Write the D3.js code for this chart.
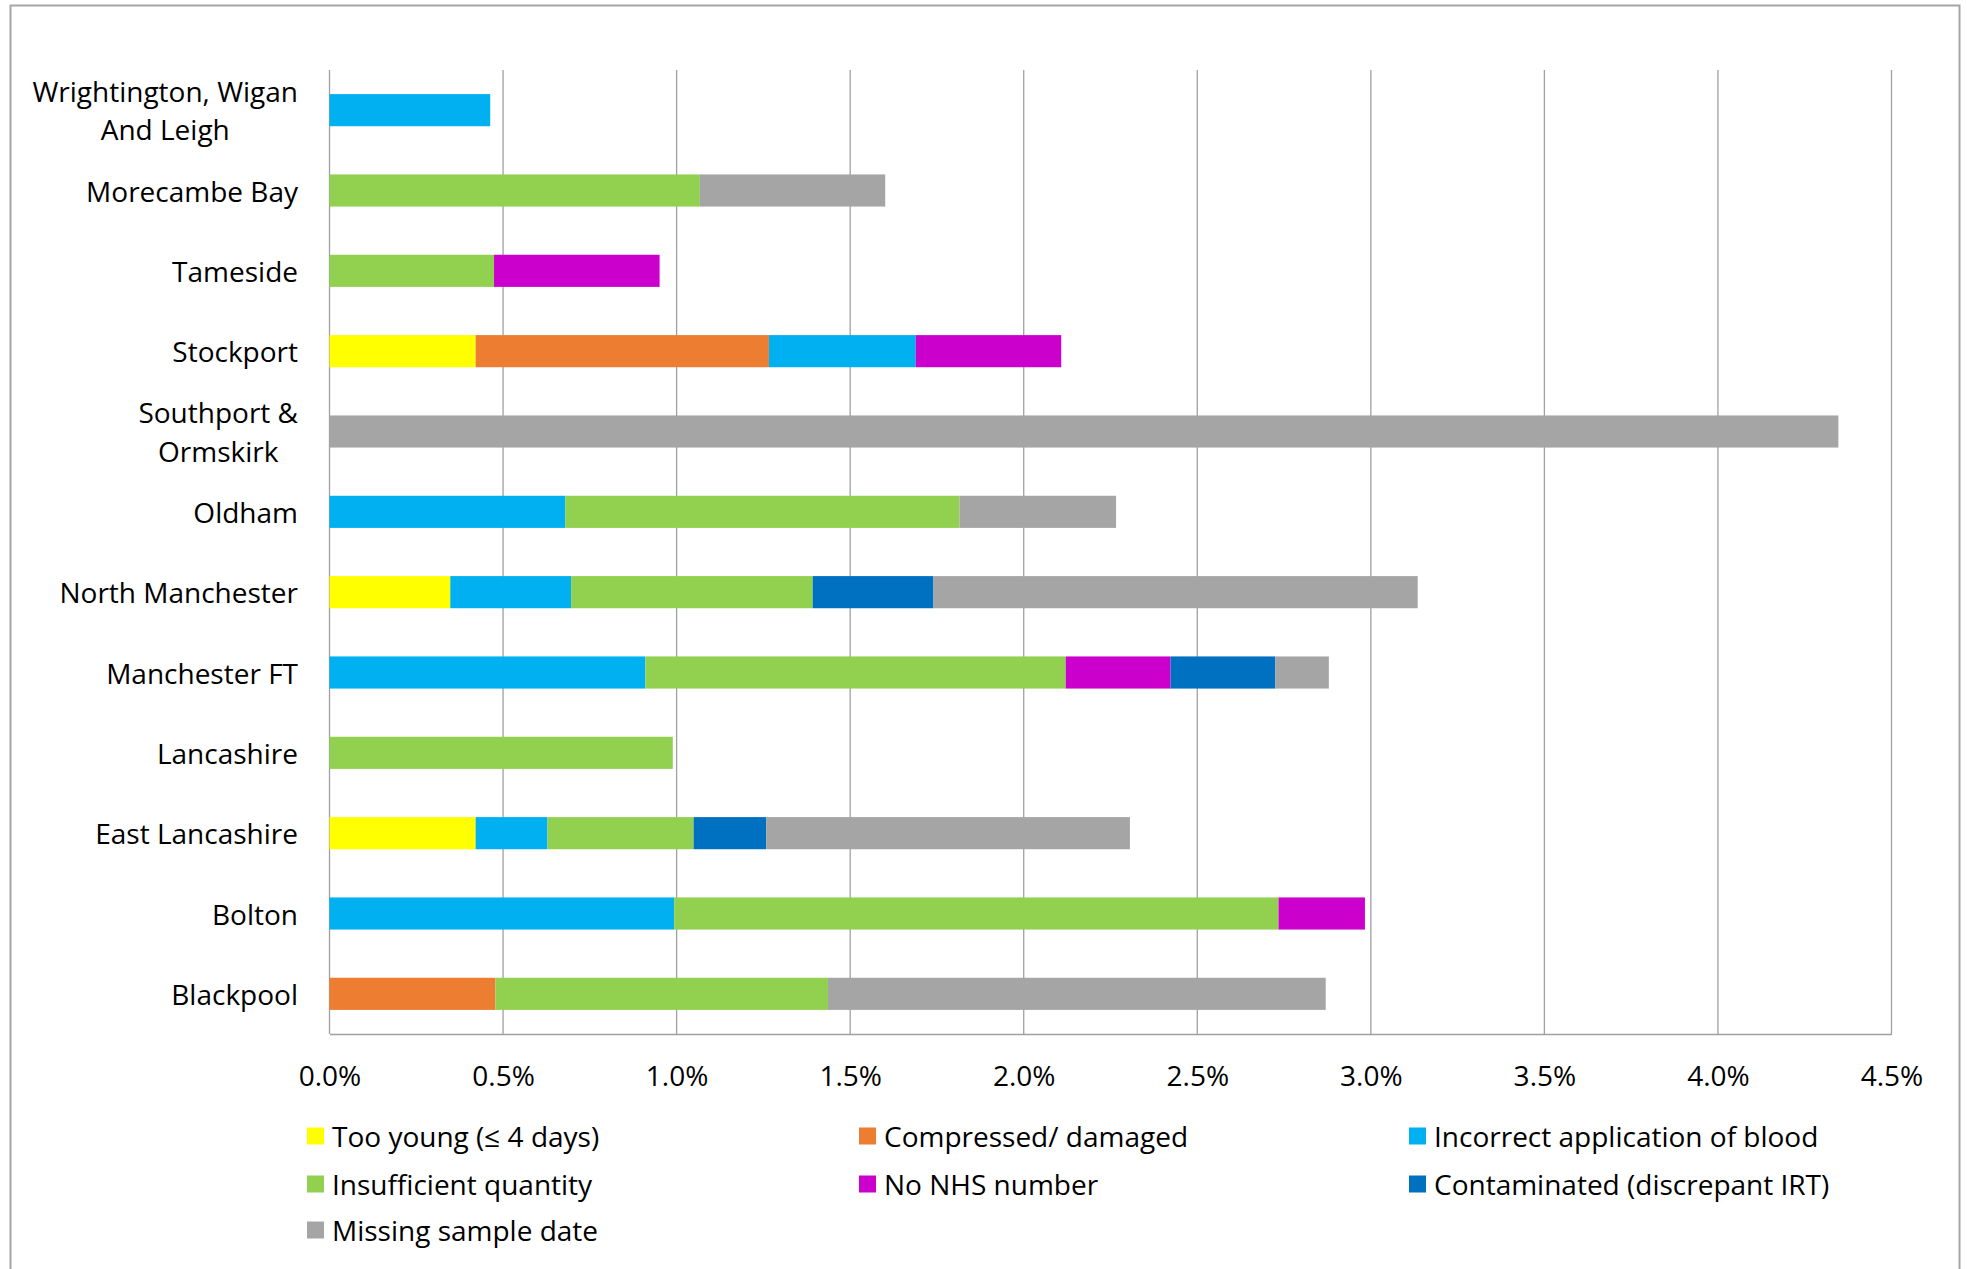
<!DOCTYPE html>
<html>
<head>
<meta charset="utf-8">
<script src="https://cdn.jsdelivr.net/npm/d3@7"></script>
<style>
  html, body { margin: 0; padding: 0; background: #fff; }
  svg { display: block; }
  text { font-family: "Open Sans", "Noto Sans", sans-serif; fill: #000; }
</style>
</head>
<body>
<svg id="chart" width="1967" height="1269"></svg>
<script>
// ---- Data ----
const categories = [
  "Wrightington, Wigan And Leigh", "Morecambe Bay", "Tameside", "Stockport",
  "Southport & Ormskirk", "Oldham", "North Manchester", "Manchester FT",
  "Lancashire", "East Lancashire", "Bolton", "Blackpool"
];
const categoryLines = [
  ["Wrightington, Wigan", "And Leigh"], ["Morecambe Bay"], ["Tameside"], ["Stockport"],
  ["Southport &", "Ormskirk"], ["Oldham"], ["North Manchester"], ["Manchester FT"],
  ["Lancashire"], ["East Lancashire"], ["Bolton"], ["Blackpool"]
];
const seriesNames = [
  "Too young (≤ 4 days)", "Compressed/ damaged", "Incorrect application of blood",
  "Insufficient quantity", "No NHS number", "Contaminated (discrepant IRT)", "Missing sample date"
];
const seriesColors = ["#FFFF00", "#ED7D31", "#00B0F0", "#92D050", "#CC00CC", "#0070C0", "#A5A5A5"];

const tooYoung     = [0,     0,     0,     0.421, 0,     0,     0.348, 0,     0,     0.421, 0,     0];
const compressed   = [0,     0,     0,     0.845, 0,     0,     0,     0,     0,     0,     0,     0.478];
const incorrectApp = [0.463, 0,     0,     0.423, 0,     0.679, 0.348, 0.910, 0,     0.207, 0.993, 0];
const insufficient = [0,     1.067, 0.474, 0,     0,     1.136, 0.696, 1.211, 0.989, 0.421, 1.741, 0.958];
const noNHS        = [0,     0,     0.477, 0.419, 0,     0,     0,     0.302, 0,     0,     0.249, 0];
const contaminated = [0,     0,     0,     0,     0,     0,     0.348, 0.302, 0,     0.209, 0,     0];
const missingDate  = [0,     0.534, 0,     0,     4.347, 0.451, 1.395, 0.154, 0,     1.048, 0,     1.434];

const tickValues = [0, 0.5, 1.0, 1.5, 2.0, 2.5, 3.0, 3.5, 4.0, 4.5];
const tickLabels = ["0.0%", "0.5%", "1.0%", "1.5%", "2.0%", "2.5%", "3.0%", "3.5%", "4.0%", "4.5%"];

// ---- Build table ----
const seriesArrays = [tooYoung, compressed, incorrectApp, insufficient, noNHS, contaminated, missingDate];
const table = categories.map((c, i) => {
  const row = { category: c };
  seriesNames.forEach((s, j) => row[s] = seriesArrays[j][i]);
  return row;
});
const stacked = d3.stack().keys(seriesNames)(table);

// ---- Layout ----
const svg = d3.select("#chart");
const plot = { left: 329.5, right: 1891.5, top: 70, bottom: 1034 };
const FS = 28;

// outer frame
svg.append("rect")
  .attr("x", 10.5).attr("y", 5.5)
  .attr("width", 1949).attr("height", 1320)
  .attr("fill", "none").attr("stroke", "#A6A6A6").attr("stroke-width", 2);

const x = d3.scaleLinear().domain([0, 4.5]).range([plot.left, plot.right]);
const y = d3.scaleBand().domain(categories).range([plot.top, plot.bottom])
  .paddingInner(0.6).paddingOuter(0.3);

// gridlines
svg.append("g").selectAll("line").data(tickValues).join("line")
  .attr("x1", d => x(d)).attr("x2", d => x(d))
  .attr("y1", plot.top).attr("y2", plot.bottom)
  .attr("stroke", "#A0A0A0").attr("stroke-width", 1.3);

// bars
const g = svg.append("g");
stacked.forEach((s, j) => {
  g.append("g").attr("fill", seriesColors[j])
    .selectAll("rect").data(s.filter(d => d[1] - d[0] > 0)).join("rect")
    .attr("x", d => x(d[0]))
    .attr("y", d => y(d.data.category))
    .attr("width", d => x(d[1]) - x(d[0]))
    .attr("height", y.bandwidth());
});

// x axis
const xAxis = d3.axisBottom(x).tickValues(tickValues)
  .tickFormat((d, i) => tickLabels[i]).tickSize(0).tickPadding(32);
const ax = svg.append("g").attr("transform", `translate(0,${plot.bottom})`).call(xAxis);
ax.select(".domain").attr("stroke", "#A0A0A0").attr("stroke-width", 1.5);
ax.selectAll("text").attr("font-size", FS).attr("font-family", "\"Open Sans\", sans-serif").attr("fill", "#000");

// category labels
const labelX = 298;
const lineGap = 38.5;
categories.forEach((c, i) => {
  const lines = categoryLines[i];
  const cy = y(c) + y.bandwidth() / 2;
  if (lines.length === 1) {
    svg.append("text").attr("font-size", FS).attr("dominant-baseline", "central")
      .attr("x", labelX).attr("y", cy).attr("text-anchor", "end").text(lines[0]);
  } else {
    // multi-line: centered lines, block right-aligned
    const tmp = svg.append("g");
    const texts = lines.map((l, k) => tmp.append("text").attr("font-size", FS)
      .attr("dominant-baseline", "central").attr("text-anchor", "middle")
      .attr("y", cy + (k - (lines.length - 1) / 2) * lineGap).text(l));
    const maxW = d3.max(texts, tt => tt.node().getComputedTextLength());
    texts.forEach(tt => tt.attr("x", labelX - maxW / 2));
  }
});

// legend
const legendCols = [307, 859, 1409];
const legendRows = [1136, 1184, 1230];
seriesNames.forEach((s, j) => {
  const col = j % 3, row = Math.floor(j / 3);
  const lg = svg.append("g").attr("transform", `translate(${legendCols[col]},${legendRows[row]})`);
  lg.append("rect").attr("x", 0).attr("y", -8.5).attr("width", 17).attr("height", 17).attr("fill", seriesColors[j]);
  lg.append("text").attr("x", 25).attr("y", 0).attr("dominant-baseline", "central")
    .attr("font-size", FS).text(s);
});
</script>
</body>
</html>
